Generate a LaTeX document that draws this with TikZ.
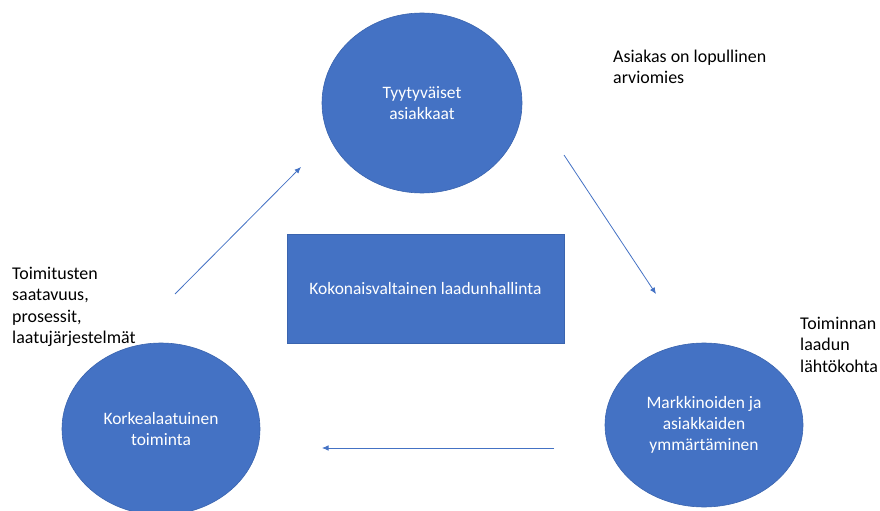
\documentclass[tikz,border=0pt]{standalone}
\usepackage{fontspec}
\setmainfont{Carlito}
\usetikzlibrary{shapes.geometric,arrows.meta}
\definecolor{officeblue}{HTML}{4472C4}
\definecolor{officeedge}{HTML}{3A64AE}
\tikzset{
  bubble/.style={ellipse, fill=officeblue, draw=officeedge, line width=0.6bp,
    inner sep=0pt, text=white, align=center,
    font=\fontsize{17.5}{21}\selectfont},
  panel/.style={rectangle, fill=officeblue, draw=officeedge, line width=0.6bp,
    inner sep=0pt, text=white, align=center,
    font=\fontsize{17.5}{21}\selectfont},
  % base anchor of a multi-line note sits on its last line
  note/.style={anchor=base west, inner sep=0pt, align=left,
    font=\fontsize{18}{21.5}\selectfont, text=black},
  flow/.style={draw=officeblue, line width=0.8bp,
    -{Latex[length=6.5bp,width=5.5bp]}}
}
\begin{document}
\begin{tikzpicture}[x=1bp,y=-1bp]
  \useasboundingbox (0,0) rectangle (880,511);
  \clip (0,0) rectangle (880,511);

  % three stages of the quality cycle
  \node[bubble, minimum width=200bp, minimum height=180bp] (asiakkaat)
    at (422,103) {Tyytyväiset\\asiakkaat};
  \node[bubble, minimum width=198bp, minimum height=164bp] (markkinat)
    at (704,425) {Markkinoiden ja\\asiakkaiden\\ymmärtäminen};
  \node[bubble, minimum width=198bp, minimum height=172bp] (toiminta)
    at (161,429) {Korkealaatuinen\\toiminta};

  % central box
  \node[panel, minimum width=277bp, minimum height=109bp] (laatu)
    at (425.5,288.5) {Kokonaisvaltainen laadunhallinta};

  % annotations
  \node[note] (nAsiakas) at (613,83.5) {Asiakas on lopullinen\\arviomies};
  \node[note] (nToiminnan) at (800,372) {Toiminnan\\laadun\\lähtökohta};
  \node[note] (nToimitus) at (12,343.5) {Toimitusten\\saatavuus,\\prosessit,\\laatujärjestelmät};

  % arrow end points
  \coordinate (a1s) at (175,294);
  \coordinate (a1e) at (301,167);
  \coordinate (a2s) at (564,155);
  \coordinate (a2e) at (656,294);
  \coordinate (a3s) at (554,448);
  \coordinate (a3e) at (322,448);

  \draw[flow] (a1s) -- (a1e);
  \draw[flow] (a2s) -- (a2e);
  \draw[flow] (a3s) -- (a3e);
\end{tikzpicture}
\end{document}
